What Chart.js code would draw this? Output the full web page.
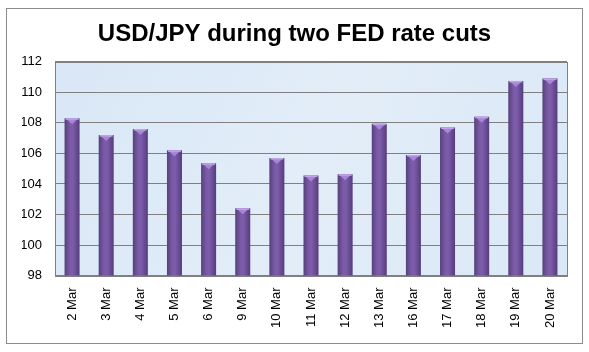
<!DOCTYPE html>
<html><head><meta charset="utf-8">
<script src="https://cdn.jsdelivr.net/npm/chart.js@4"></script>
<style>html,body{margin:0;padding:0;background:#fff}#wrap{width:589px;height:352px;position:relative}</style>
</head><body><div id="wrap"><canvas id="c" width="589" height="352"></canvas></div>
<script>
const categories = ["2 Mar","3 Mar","4 Mar","5 Mar","6 Mar","9 Mar","10 Mar","11 Mar","12 Mar","13 Mar","16 Mar","17 Mar","18 Mar","19 Mar","20 Mar"];
const usdJpy = [108.3,107.2,107.6,106.2,105.35,102.4,105.7,104.55,104.63,107.95,105.9,107.7,108.4,110.75,110.9];
const yMin = 98, yMax = 112, yStep = 2;
const titleText = "USD/JPY during two FED rate cuts";
const BAR_PCT = 0.44;

const decor = {
  id: 'decor',
  beforeDraw(chart) {
    const {ctx, chartArea: a} = chart;
    ctx.save();
    ctx.fillStyle = '#fff';
    ctx.fillRect(0,0,chart.width,chart.height);
    ctx.strokeStyle = '#8c8c8c';
    ctx.lineWidth = 1;
    ctx.strokeRect(6.5, 8.5, 576, 335);
    const g = ctx.createLinearGradient(a.left, a.top, a.right, a.bottom);
    g.addColorStop(0, '#d9e7f6');
    g.addColorStop(0.5, '#e2edf8');
    g.addColorStop(1, '#dae8f6');
    ctx.fillStyle = g;
    ctx.fillRect(a.left, a.top, a.right - a.left, a.bottom - a.top);
    ctx.restore();
  },
  afterDatasetsDraw(chart) {
    const {ctx, chartArea: a} = chart;
    ctx.save();
    chart.getDatasetMeta(0).data.forEach(b => {
      const w = b.width, x0 = b.x - w/2, y = b.y;
      ctx.fillStyle = '#a885d8';
      ctx.beginPath();
      ctx.moveTo(x0 + 1, y);
      ctx.lineTo(x0 + w - 1, y);
      ctx.lineTo(b.x, y + 6);
      ctx.closePath();
      ctx.fill();
      ctx.fillStyle = '#c0a5e6';
      ctx.fillRect(x0 + 1, y, w - 2, 1.5);
    });
    ctx.strokeStyle = '#808080';
    ctx.lineWidth = 1;
    ctx.strokeRect(Math.round(a.left)+0.5, Math.round(a.top)+0.5, Math.round(a.right-a.left), Math.round(a.bottom-a.top));
    ctx.restore();
  }
};

function barFill(ctx) {
  const chart = ctx.chart;
  const xs = chart.scales && chart.scales.x;
  if (!xs || !chart.chartArea || ctx.dataIndex === undefined) return '#6c4e98';
  const cx = xs.getPixelForValue(ctx.dataIndex);
  const w = (xs.width / categories.length) * BAR_PCT;
  if (!Number.isFinite(cx) || !Number.isFinite(w) || w <= 0) return '#6c4e98';
  const x0 = cx - w/2;
  const g = chart.ctx.createLinearGradient(x0, 0, x0 + w, 0);
  g.addColorStop(0, '#56407d');
  g.addColorStop(0.35, '#7a5aa6');
  g.addColorStop(0.55, '#7d5cab');
  g.addColorStop(1, '#553d7c');
  return g;
}

new Chart(document.getElementById('c'), {
  type: 'bar',
  data: {
    labels: categories,
    datasets: [{
      data: usdJpy,
      backgroundColor: barFill,
      borderWidth: 0,
      barPercentage: BAR_PCT,
      categoryPercentage: 1.0
    }]
  },
  options: {
    responsive: false,
    animation: false,
    devicePixelRatio: 1,
    layout: { padding: { left: 22, right: 22, top: 0, bottom: 12 } },
    plugins: {
      legend: { display: false },
      tooltip: { enabled: false },
      title: {
        display: true,
        text: titleText,
        color: '#000',
        font: { family: 'Liberation Sans', size: 24, weight: 'bold' },
        padding: { top: 20, bottom: 13 }
      }
    },
    scales: {
      x: {
        grid: { display: false, drawTicks: false },
        border: { display: false },
        ticks: {
          color: '#000',
          font: { family: 'Liberation Sans', size: 13 },
          minRotation: 90, maxRotation: 90,
          padding: 12,
          autoSkip: false
        }
      },
      y: {
        min: yMin, max: yMax,
        afterFit(scale) { scale.width = 33; },
        grid: { color: '#808080', lineWidth: 1, drawTicks: false },
        border: { display: false },
        ticks: {
          stepSize: yStep,
          color: '#000',
          font: { family: 'Liberation Sans', size: 13 },
          padding: 13
        }
      }
    }
  },
  plugins: [decor]
});
</script></body></html>
